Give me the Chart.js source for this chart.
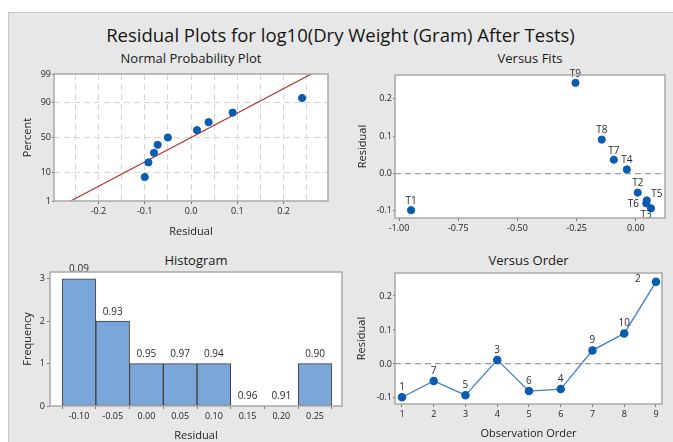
<!DOCTYPE html>
<html><head><meta charset="utf-8">
<script src="https://cdn.jsdelivr.net/npm/chart.js@4"></script>
<style>
html,body{margin:0;padding:0;background:#fff;width:673px;height:442px;overflow:hidden;}
#panel{position:absolute;left:8px;top:12px;width:665px;height:430px;background:#e7e7e7;border-top:1px solid #c6c6c6;border-left:1px solid #c6c6c6;box-sizing:border-box;}
#title{position:absolute;left:0;width:681px;top:22px;text-align:center;font:18.5px 'Open Sans',sans-serif;color:#151515;line-height:26px;}
.st{position:absolute;font:13px 'Open Sans',sans-serif;color:#1a1a1a;text-align:center;line-height:18px;}
canvas{position:absolute;}
</style></head>
<body>
<div id="panel"></div>
<div id="title">Residual Plots for log10(Dry Weight (Gram) After Tests)</div>
<div class="st" style="left:54px;width:274px;top:49px">Normal Probability Plot</div>
<div class="st" style="left:395px;width:270px;top:49px">Versus Fits</div>
<div class="st" style="left:50px;width:292px;top:251px">Histogram</div>
<div class="st" style="left:395px;width:267px;top:251px">Versus Order</div>
<canvas id="cA" width="340" height="200" style="left:0;top:45px"></canvas>
<canvas id="cB" width="333" height="200" style="left:340px;top:45px"></canvas>
<canvas id="cC" width="350" height="197" style="left:0;top:245px"></canvas>
<canvas id="cD" width="333" height="197" style="left:340px;top:245px"></canvas>
<script>
// ---------- data ----------
const npResiduals = [-0.100, -0.092, -0.080, -0.072, -0.050, 0.013, 0.038, 0.090, 0.240];
const npPercent   = [7.4, 18.1, 28.7, 39.4, 50.0, 60.6, 71.3, 81.9, 92.6];
const npLineResidual = [-0.26, 0.26];
const npLinePercent  = [1, 99];
const percentTicks = [1, 10, 50, 90, 99];
const npResidualTicks = [-0.25, -0.20, -0.15, -0.10, -0.05, 0.00, 0.05, 0.10, 0.15, 0.20, 0.25];

const fitsLabels    = ['T1', 'T2', 'T3', 'T4', 'T5', 'T6', 'T7', 'T8', 'T9'];
const fittedValues  = [-0.949, 0.008, 0.064, -0.038, 0.046, 0.044, -0.093, -0.144, -0.255];
const fitsResiduals = [-0.098, -0.051, -0.093, 0.011, -0.072, -0.080, 0.037, 0.091, 0.243];
const fitsLabelPlace = ['top', 'top', 'below', 'top', 'right', 'left', 'top', 'top', 'top'];
const fittedTicks = [-1.00, -0.75, -0.50, -0.25, 0.00];
const residualTicks = [-0.1, 0.0, 0.1, 0.2];

const histBins   = [-0.10, -0.05, 0.00, 0.05, 0.10, 0.15, 0.20, 0.25];
const histFreq   = [3, 2, 1, 1, 1, 0, 0, 1];
const histLabels = ['0.09', '0.93', '0.95', '0.97', '0.94', '0.96', '0.91', '0.90'];
const freqTicks  = [0, 1, 2, 3];

const observation   = [1, 2, 3, 4, 5, 6, 7, 8, 9];
const orderResiduals = [-0.098, -0.050, -0.092, 0.012, -0.080, -0.074, 0.040, 0.090, 0.242];
const orderLabels   = ['1', '7', '5', '3', '6', '4', '9', '10', '2'];

// ---------- helpers ----------
function normInv(p){
  const a=[-3.969683028665376e+01,2.209460984245205e+02,-2.759285104469687e+02,1.383577518672690e+02,-3.066479806614716e+01,2.506628277459239e+00];
  const b=[-5.447609879822406e+01,1.615858368580409e+02,-1.556989798598866e+02,6.680131188771972e+01,-1.328068155288572e+01];
  const c=[-7.784894002430293e-03,-3.223964580411365e-01,-2.400758277161838e+00,-2.549732539343734e+00,4.374664141464968e+00,2.938163982698783e+00];
  const d=[7.784695709041462e-03,3.224671290700398e-01,2.445134137142996e+00,3.754408661907416e+00];
  const pl=0.02425, ph=1-pl; let q,r;
  if(p<pl){q=Math.sqrt(-2*Math.log(p));return (((((c[0]*q+c[1])*q+c[2])*q+c[3])*q+c[4])*q+c[5])/((((d[0]*q+d[1])*q+d[2])*q+d[3])*q+1);}
  if(p<=ph){q=p-0.5;r=q*q;return (((((a[0]*r+a[1])*r+a[2])*r+a[3])*r+a[4])*r+a[5])*q/(((((b[0]*r+b[1])*r+b[2])*r+b[3])*r+b[4])*r+1);}
  q=Math.sqrt(-2*Math.log(1-p));return -(((((c[0]*q+c[1])*q+c[2])*q+c[3])*q+c[4])*q+c[5])/((((d[0]*q+d[1])*q+d[2])*q+d[3])*q+1);
}
const zOf = pct => normInv(pct/100);

const FAM = "'Open Sans', sans-serif";
const tickFont = {family: FAM, size: 9};
const titleFont = {family: FAM, size: 11};
const INK = '#222';
const BLUE = '#0b5cb0';

const plotFrame = {
  id: 'plotFrame',
  beforeDraw(chart){
    const {ctx, chartArea: a} = chart;
    ctx.save(); ctx.fillStyle = '#fff';
    ctx.fillRect(a.left, a.top, a.right - a.left, a.bottom - a.top);
    ctx.restore();
  },
  afterDraw(chart){
    const {ctx, chartArea: a} = chart;
    ctx.save(); ctx.strokeStyle = '#a9a9a9'; ctx.lineWidth = 1.5;
    ctx.strokeRect(a.left, a.top, a.right - a.left, a.bottom - a.top);
    ctx.restore();
  }
};

function labelPlugin(id, labels, offsetFn){
  return {
    id,
    afterDatasetsDraw(chart){
      const {ctx} = chart;
      const meta = chart.getDatasetMeta(chart.data.datasets.length - 1);
      ctx.save();
      ctx.font = '10px ' + FAM; ctx.fillStyle = '#2a2a2a';
      ctx.textAlign = 'center'; ctx.textBaseline = 'middle';
      meta.data.forEach((el, i) => {
        const [dx, dy] = offsetFn(i, el, chart);
        ctx.fillText(labels[i], el.x + dx, el.y + dy);
      });
      ctx.restore();
    }
  };
}

function baseOpts(pad){
  return {
    responsive: false, animation: false, events: [],
    layout: {padding: pad},
    plugins: {legend: {display: false}, tooltip: {enabled: false}, title: {display: false}}
  };
}
function axis(o){
  const s = {
    type: 'linear', min: o.min, max: o.max,
    afterBuildTicks: sc => { sc.ticks = o.ticks.map(v => ({value: v})); },
    afterFit: sc => { if (o.width != null) sc.width = o.width; if (o.height != null) sc.height = o.height; },
    ticks: {font: tickFont, color: INK, padding: o.tpad ?? 2, autoSkip: false, maxRotation: 0, callback: o.cb},
    grid: {color: o.gridColor || 'transparent', tickColor: o.tickColor || '#777', tickLength: o.tlen ?? 3, lineWidth: o.gridWidth || 1, drawTicks: true},
    border: {display: false, dash: o.dash || []},
    title: {display: true, text: o.title, font: titleFont, color: INK, padding: o.titlePad}
  };
  if (o.position) s.position = o.position;
  return s;
}

// ---------- A: Normal probability plot ----------
new Chart(document.getElementById('cA'), {
  type: 'scatter',
  data: {datasets: [
    {type: 'line', data: npLineResidual.map((x, i) => ({x, y: zOf(npLinePercent[i])})),
     borderColor: '#b3332b', borderWidth: 1.2, pointRadius: 0, fill: false, order: 2},
    {data: npResiduals.map((x, i) => ({x, y: zOf(npPercent[i])})),
     backgroundColor: BLUE, borderColor: BLUE, pointRadius: 3.6, order: 1}
  ]},
  options: Object.assign(baseOpts({top: 29, right: 12, left: 0, bottom: 0}), {
    scales: {
      x: axis({min: -0.296, max: 0.296, ticks: npResidualTicks, height: 44, title: 'Residual',
        titlePad: {top: 0, bottom: 7}, dash: [6, 4], gridColor: '#d6d6d6',
        tickColor: c => (Math.round(Math.abs(c.tick.value) * 100) % 10 === 0) ? '#777' : 'transparent',
        cb: v => (Math.round(Math.abs(v) * 100) % 10 === 0) ? v.toFixed(1) : ''}),
      y: axis({min: zOf(1), max: zOf(99), ticks: percentTicks.map(zOf), width: 54, title: 'Percent',
        titlePad: {top: 21, bottom: 0}, dash: [6, 4], tlen: 2, tpad: 1,
        gridColor: c => (c.index === 0 || c.index === percentTicks.length - 1) ? 'transparent' : '#d6d6d6',
        cb: (v, i) => String(percentTicks[i])})
    }
  }),
  plugins: [plotFrame]
});

// ---------- B: Versus fits ----------
const placeOffset = {top: [0, -9], below: [-5, 7], left: [-13, 1], right: [10, -6]};
new Chart(document.getElementById('cB'), {
  type: 'scatter',
  data: {datasets: [
    {data: fittedValues.map((x, i) => ({x, y: fitsResiduals[i]})),
     backgroundColor: BLUE, borderColor: BLUE, pointRadius: 3.6}
  ]},
  options: Object.assign(baseOpts({top: 30, right: 8, left: 0, bottom: 0}), {
    scales: {
      x: axis({min: -1.017, max: 0.123, ticks: fittedTicks, height: 27, title: 'Fitted Value',
        titlePad: {top: 0, bottom: -11}, cb: v => v.toFixed(2)}),
      y: axis({min: -0.119, max: 0.264, ticks: residualTicks, width: 55, title: 'Residual',
        titlePad: {top: 16, bottom: 0}, dash: [6, 4], gridWidth: 1.2, tlen: 2, tpad: 1,
        gridColor: c => Math.abs(c.tick.value) < 1e-9 ? '#9c9c9c' : 'transparent',
        cb: v => v.toFixed(1)})
    }
  }),
  plugins: [plotFrame, labelPlugin('fitLabels', fitsLabels, i => placeOffset[fitsLabelPlace[i]])]
});

// ---------- C: Histogram ----------
new Chart(document.getElementById('cC'), {
  type: 'bar',
  data: {datasets: [
    {data: histBins.map((x, i) => ({x, y: histFreq[i]})),
     backgroundColor: '#7ba6da', borderColor: '#3f3f3f', borderWidth: 1,
     barPercentage: 1, categoryPercentage: 1, borderSkipped: false}
  ]},
  options: Object.assign(baseOpts({top: 27, right: 8, left: 0, bottom: 0}), {
    scales: {
      x: Object.assign(axis({min: -0.143, max: 0.29, ticks: histBins, height: 36, title: 'Residual',
        titlePad: {top: 0, bottom: 0}, cb: v => v.toFixed(2)}), {offset: false}),
      y: axis({min: 0, max: 3.16, ticks: freqTicks, width: 50, title: 'Frequency',
        titlePad: {top: 21, bottom: 0}, tlen: 3, tpad: 2, cb: v => String(v)})
    }
  }),
  plugins: [plotFrame, labelPlugin('histLabels', histLabels, () => [0, -9.5])]
});

// ---------- D: Versus order ----------
new Chart(document.getElementById('cD'), {
  type: 'line',
  data: {datasets: [
    {data: observation.map((x, i) => ({x, y: orderResiduals[i]})),
     borderColor: '#3f80cf', borderWidth: 1.3, pointRadius: 3.6,
     pointBackgroundColor: BLUE, pointBorderColor: BLUE, fill: false, tension: 0}
  ]},
  options: Object.assign(baseOpts({top: 28, right: 11, left: 0, bottom: 0}), {
    scales: {
      x: axis({min: 0.78, max: 9.19, ticks: observation, height: 38, title: 'Observation Order',
        titlePad: {top: 0, bottom: 1.4}, cb: v => String(v)}),
      y: axis({min: -0.118, max: 0.268, ticks: residualTicks, width: 55, title: 'Residual',
        titlePad: {top: 15, bottom: 0}, dash: [6, 4], gridWidth: 1.2, tlen: 2, tpad: 1,
        gridColor: c => Math.abs(c.tick.value) < 1e-9 ? '#9c9c9c' : 'transparent',
        cb: v => v.toFixed(1)})
    }
  }),
  plugins: [plotFrame, labelPlugin('orderLabels', orderLabels,
    (i, el, chart) => (el.y - 11 < chart.chartArea.top + 4) ? [-18, -3] : [0, -10])]
});
</script>
</body></html>
